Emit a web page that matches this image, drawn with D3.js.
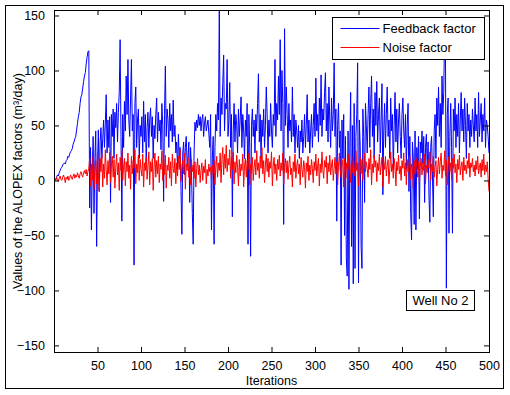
<!DOCTYPE html>
<html>
<head>
<meta charset="utf-8">
<script src="https://cdn.jsdelivr.net/npm/d3@7"></script>
<style>
  body { margin: 0; background: #fff; }
  text { font-family: Arial, "Liberation Sans", sans-serif; fill: #000; }
</style>
</head>
<body>
<div class="graph-center"></div>
<script>
// data (one value per iteration, 1..500)
let feedback = [
  0, 1, 3, 5, 4, 7, 9, 11, 12, 14, 15, 16, 15, 18, 19, 22, 21, 24, 26, 27,
  29, 33, 35, 38, 40, 46, 52, 58, 62, 70, 76, 78, 84, 90, 95, 98, 106, 112, 117, 118,
  -25, 30, -45, 10, 40, -30, 20, 45, -60, 15, 46, -10, 35, 48, 20, 38, 55, 30, 52, 78,
  25, 55, 30, 58, -20, 60, 40, 65, 20, 62, 48, 70, 35, 62, 80, 128, 40, -37, 60, 30,
  72, 45, 95, 60, 110, 55, 40, 75, 110, 45, 60, -77, 70, 85, 30, 55, 65, 20, 50, 40,
  58, 25, 72, 35, 60, 15, 48, 62, 30, 55, 66, 40, 58, 20, 50, 38, 60, 75, 35, 62,
  45, 55, 28, 70, 50, -19, 60, 104, 40, 65, 55, 30, 70, 45, 60, 35, 73, 40, 50, 25,
  35, 10, 42, 20, 30, -10, -49, 25, 35, 5, 30, 40, 15, 20, 35, -20, 30, 10, -30, -58,
  25, 53, 45, 55, 48, 60, 50, 58, 45, 55, 60, 40, 52, 58, 45, 50, 55, 42, 30, 60,
  -45, 20, 40, -58, 30, 60, 45, 70, 55, 160, 40, 75, 60, 88, 114, 45, 70, 65, 110, 40,
  55, 89, 30, 60, -33, 45, 70, 35, 60, 50, 25, 65, 40, 55, 76, 30, 60, 45, 20, 55,
  40, 70, -58, 60, 30, -69, 50, 65, 40, 55, 25, 60, 45, 70, 97, 35, 60, 20, 55, 40,
  65, 30, 50, 85, 60, 25, 55, 40, 70, 45, 30, 60, 50, 110, 40, 70, 55, 95, 60, 128,
  45, 100, 70, -40, 138, 50, 85, 60, 30, 70, 45, 55, 35, 85, 40, 60, 25, 55, 45, 30,
  50, 20, 45, 35, 55, 25, 40, 60, 30, 50, 78, 35, 55, 25, 45, 60, 30, 50, 70, 40,
  93, 45, 60, 35, 75, 50, 96, 40, 65, 55, 80, 98, 45, 70, 35, 85, 55, 30, 75, 45,
  60, 107, 40, 65, -37, 50, 70, 30, 45, -77, 55, 20, 60, -50, 40, -70, -87, 45, -99, 30,
  80, -60, 50, -94, 70, -80, 40, 60, 107, -93, 55, 30, -60, -80, 65, 40, -20, 70, 50, 25,
  60, 85, 30, 70, 95, 40, 65, 20, 80, 50, 90, 35, 60, 75, 25, 55, 88, -13, 45, 70,
  30, 60, 85, 40, 55, 20, 75, 45, 60, 10, 50, 80, 35, 65, 25, 55, 70, 40, 20, 60,
  75, 45, 30, 60, 10, 50, 70, -10, 40, -30, -54, 35, 20, -40, 45, -45, 30, 10, 40, -35,
  35, 25, 45, 15, 40, -20, 30, 42, 10, 35, -15, -38, 30, 40, 5, -33, 45, 60, 20, 75,
  50, 85, 40, 70, 30, 95, 60, 80, 140, 110, -98, 60, 75, -48, 40, 70, 30, -48, 65, 45,
  75, 30, 60, 40, 70, 25, 55, 80, 45, 65, 35, 75, 50, 20, 70, 45, 60, 30, 55, 40,
  65, 50, 35, 75, 45, 60, 30, 80, 40, 55, 70, 35, 60, 45, 75, 30, 55, 50, 40, 25
]

let noise = [
  2, 0, 3, 1, -1, 2, 4, 1, 0, 3, 5, 2, -2, 3, 1, 4, 0, 2, 5, 3,
  1, 4, 6, 2, 5, 3, 7, 4, 2, 6, 8, 5, 3, 7, 9, 6, 10, 4, 8, 11,
  20, -5, 15, 0, 22, -8, 12, 18, -3, 25, 5, -10, 20, 8, 24, -6, 15, 2, 28, 10,
  -4, 18, 6, 26, -2, 14, 22, 3, 19, -7, 12, 24, 5, 16, -9, 21, 9, 27, 0, 13,
  20, -5, 17, 8, 25, 2, 14, -8, 22, 6, 18, 11, 28, -3, 15, 7, 23, 0, 19, 10,
  4, 24, -6, 16, 9, 21, 1, 13, 26, -4, 17, 8, 20, -9, 12, 25, 3, 18, 6, 22,
  -2, 15, 10, 27, 0, 19, 5, 23, -7, 14, 9, 21, 2, 17, -5, 24, 11, 7, 20, -3,
  16, 4, 22, 10, 28, -1, 13, 18, 6, 25, -8, 15, 9, 21, 3, 12, -4, 19, 8, 14,
  2, 17, -6, 11, 20, 5, 14, -2, 9, 16, 0, 13, 7, 19, -3, 10, 4, 15, 8, 12,
  1, 14, 6, 18, -4, 12, 22, 3, 16, 9, 25, -2, 19, 30, 5, 24, 11, 32, 8, 20,
  14, 28, 2, 21, 10, 26, -3, 17, 7, 23, 12, -5, 19, 4, 15, 9, 24, -6, 13, 20,
  3, 18, 10, 25, -4, 15, 7, 21, 0, 12, 19, 5, 27, 9, 16, 2, 22, 11, 30, 6,
  18, -2, 14, 24, 8, 20, 3, 17, 11, 26, -5, 13, 21, 6, 15, 0, 19, 10, 23, 4,
  16, 9, 25, -3, 12, 20, 7, 18, 1, 14, 22, 5, 11, -6, 17, 8, 24, 2, 13, 19,
  6, 15, -4, 21, 10, 3, 18, 12, -7, 16, 8, 22, 0, 14, 5, 19, 11, -2, 17, 9,
  24, 4, 13, 20, -5, 15, 7, 26, 10, 2, 18, 12, 22, -3, 16, 8, 23, 5, 14, 19,
  0, 11, 21, 6, 17, -4, 13, 25, 9, 3, 19, 14, -6, 20, 8, 16, 2, 24, 10, 15,
  -2, 18, 7, 22, 12, 4, 27, 9, 16, -5, 14, 21, 6, 19, 0, 13, 25, 8, 17, 11,
  3, 20, 10, 28, -4, 15, 7, 23, 12, 18, -1, 16, 9, 24, 5, 13, 21, -6, 17, 10,
  22, 4, 14, 19, -3, 11, 26, 8, 15, 2, 20, 12, -5, 17, 9, 23, 6, 13, 0, 18,
  11, 25, 4, 16, -4, 19, 8, 14, 22, 1, 15, 10, -7, 18, 6, 21, 12, 3, 17, -2,
  13, 20, 5, 16, 9, 24, -3, 14, 7, 19, 11, 26, 0, 15, 8, 22, 3, 12, 18, -5,
  10, 21, 6, 17, 25, 2, 14, 9, 27, 4, 18, -4, 13, 22, 8, 16, 1, 20, 11, 24,
  7, 15, -2, 19, 10, 23, 5, 13, 17, 0, 21, 9, 14, 6, 18, 11, 25, 3, 16, 12,
  20, 8, 14, 4, 18, 10, 22, 6, 12, 16, 3, 19, 9, 24, 5, 14, 8, 17, 2, -10
]

let seriesNames = ["Feedback factor", "Noise factor"]
let seriesColors = ["#0000ff", "#ff0000"]
let xTicks = [50, 100, 150, 200, 250, 300, 350, 400, 450, 500]
let yTicks = [-150, -100, -50, 0, 50, 100, 150]
let annotation = "Well No 2"

//global variables
let svgWidth = 510
let svgHeight = 395

let plot = { left: 54, right: 489, top: 10, bottom: 352 }

let svg = d3.select('.graph-center')
    .append('svg')
    .attr('width', svgWidth)
    .attr('height', svgHeight)

// figure frame
svg.append('rect')
    .attr('x', 5.5).attr('y', 5.5)
    .attr('width', 498).attr('height', 383)
    .attr('fill', '#fff')
    .attr('stroke', '#000')

// scales
let xScale = d3.scaleLinear()
    .domain([0, 500])
    .range([plot.left, plot.right])
let yScale = d3.scaleLinear()
    .domain([-156, 155])
    .range([plot.bottom, plot.top])

svg.append('clipPath')
    .attr('id', 'clip')
    .append('rect')
    .attr('x', plot.left).attr('y', plot.top)
    .attr('width', plot.right - plot.left)
    .attr('height', plot.bottom - plot.top)

let valueLine = d3.line()
    .x((d, i) => xScale(i + 1))
    .y(d => yScale(d))

let lines = svg.append('g').attr('clip-path', 'url(#clip)')
;[feedback, noise].forEach((s, k) => {
    lines.append('path')
        .attr('d', valueLine(s))
        .attr('fill', 'none')
        .attr('stroke', seriesColors[k])
        .attr('stroke-width', 1)
})

// axes, ticks pointing inwards on all four sides
let tickLen = 5
svg.append('g')
    .attr('transform', `translate(0,${plot.bottom})`)
    .call(d3.axisBottom(xScale).tickValues(xTicks).tickSizeInner(-tickLen).tickSizeOuter(0).tickPadding(9))
svg.append('g')
    .attr('transform', `translate(0,${plot.top})`)
    .call(d3.axisTop(xScale).tickValues(xTicks).tickSizeInner(-tickLen).tickSizeOuter(0).tickFormat(''))
svg.append('g')
    .attr('transform', `translate(${plot.left},0)`)
    .call(d3.axisLeft(yScale).tickValues(yTicks).tickSizeInner(-tickLen).tickSizeOuter(0).tickPadding(9))
svg.append('g')
    .attr('transform', `translate(${plot.right},0)`)
    .call(d3.axisRight(yScale).tickValues(yTicks).tickSizeInner(-tickLen).tickSizeOuter(0).tickFormat(''))

svg.selectAll('.tick text')
    .style('font-size', '12.5px')
    .style('font-family', 'Arial, "Liberation Sans", sans-serif')
svg.selectAll('.domain, .tick line').attr('stroke', '#000')

// axes box
svg.append('rect')
    .attr('x', plot.left + 0.5).attr('y', plot.top + 0.5)
    .attr('width', plot.right - plot.left).attr('height', plot.bottom - plot.top)
    .attr('fill', 'none')
    .attr('stroke', '#000')

// axis labels
svg.append('text')
    .attr('x', (plot.left + plot.right) / 2)
    .attr('y', 385)
    .attr('text-anchor', 'middle')
    .style('font-size', '12.5px')
    .text('Iterations')

svg.append('text')
    .attr('transform', `translate(22,${(plot.top + plot.bottom) / 2}) rotate(-90)`)
    .attr('text-anchor', 'middle')
    .style('font-size', '12.5px')
    .text('Values of the ALOPEX factors (m³/day)')

// legend
let legend = svg.append('g').attr('transform', 'translate(332.5,17.5)')
legend.append('rect')
    .attr('width', 152).attr('height', 42)
    .attr('fill', '#fff').attr('stroke', '#000')
seriesNames.forEach((name, k) => {
    let yy = 11 + k * 19
    legend.append('line')
        .attr('x1', 8).attr('x2', 47)
        .attr('y1', yy).attr('y2', yy)
        .attr('stroke', seriesColors[k])
    legend.append('text')
        .attr('x', 50).attr('y', yy + 4.5)
        .style('font-size', '13px')
        .text(name)
})

// text box
let note = svg.append('g').attr('transform', 'translate(406.5,290.5)')
note.append('rect')
    .attr('width', 68).attr('height', 20)
    .attr('fill', '#fff').attr('stroke', '#000')
note.append('text')
    .attr('x', 34).attr('y', 14.5)
    .attr('text-anchor', 'middle')
    .style('font-size', '13px')
    .text(annotation)
</script>
</body>
</html>
